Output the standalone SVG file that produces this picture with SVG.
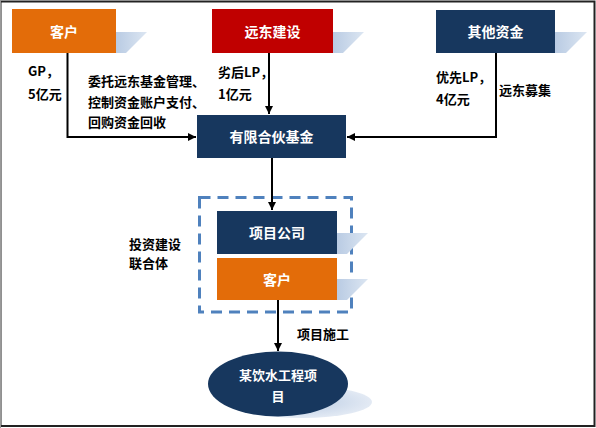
<svg xmlns="http://www.w3.org/2000/svg" width="596" height="428" viewBox="0 0 596 428">
<style>
.lbl{font-family:"Noto Sans CJK SC","Noto Sans",sans-serif;font-weight:bold;font-size:13px;fill:#000}
.box{font-family:"Noto Sans CJK SC","Noto Sans",sans-serif;font-weight:bold;font-size:14px;fill:#fff;text-anchor:middle}
.wt{font-family:"Noto Sans CJK SC","Noto Sans",sans-serif;font-weight:bold;font-size:13px;fill:#fff;text-anchor:middle}
.conn{stroke:#000;stroke-width:2;fill:none}
.shadow{fill:url(#sg)}
.navy{fill:#17375E}
.orange{fill:#E36C09}
.red{fill:#C00000}
</style>
<defs>
<marker id="arr" markerUnits="userSpaceOnUse" markerWidth="8" markerHeight="8" refX="8" refY="4" orient="auto">
<path d="M0,0 L8,4 L0,8 z" fill="#000"/>
</marker>
<linearGradient id="sg" x1="0" y1="0" x2="1" y2="0">
<stop offset="0" stop-color="#B9CBE3"/>
<stop offset="1" stop-color="#DCE6F2"/>
</linearGradient>
<radialGradient id="eg">
<stop offset="0" stop-color="#B9CBE3"/>
<stop offset="1" stop-color="#E3EAF4"/>
</radialGradient>
</defs>
<rect x="0" y="0" width="596" height="428" fill="#fff"/>
<rect x="0.5" y="1.5" width="594" height="424.5" fill="none" stroke="#222" stroke-width="2"/>
<line x1="0.5" y1="0" x2="0.5" y2="428" stroke="#999" stroke-width="1"/>

<g id="n-kehu-top">
<polygon class="shadow" points="116,32 147,32 126,53 116,53"/>
<rect class="orange" x="12" y="9" width="104" height="44"/>
<text class="box" x="64" y="37">客户</text>
</g>
<g id="n-yuandong">
<polygon class="shadow" points="333,32 364,32 343,53 333,53"/>
<rect class="red" x="212" y="9" width="121" height="44"/>
<text class="box" x="272.5" y="37">远东建设</text>
</g>
<g id="n-other">
<polygon class="shadow" points="555,32 587,32 566,53 555,53"/>
<rect class="navy" x="436" y="10" width="119" height="43"/>
<text class="box" x="495.5" y="37">其他资金</text>
</g>
<g id="n-fund">
<rect class="navy" x="197" y="115" width="149" height="43"/>
<text class="box" x="271.5" y="142">有限合伙基金</text>
</g>
<g id="n-union">
<rect x="199.5" y="197.5" width="152" height="114.5" fill="none" stroke="#4F81BD" stroke-width="3" stroke-dasharray="11,7"/>
</g>
<g id="n-company">
<polygon class="shadow" points="337,233 368,233 347,254 337,254"/>
<rect class="navy" x="217" y="211" width="120" height="43"/>
<text class="box" x="277" y="238">项目公司</text>
</g>
<g id="n-kehu-bottom">
<polygon class="shadow" points="337,279 368,279 347,300 337,300"/>
<rect class="orange" x="217" y="258" width="120" height="42"/>
<text class="box" x="277" y="285">客户</text>
</g>
<g id="n-project">
<ellipse cx="302" cy="402" rx="70" ry="16" fill="url(#eg)"/>
<ellipse cx="278" cy="384" rx="70" ry="32.5" fill="#17375E"/>
<text class="wt" x="278" y="380">某饮水工程项</text>
<text class="wt" x="278" y="401">目</text>
</g>

<g id="connectors">
<polyline class="conn" points="67.5,53 67.5,137 196,137" marker-end="url(#arr)"/>
<line class="conn" x1="269" y1="53" x2="269" y2="114" marker-end="url(#arr)"/>
<polyline class="conn" points="496,53 496,137 347,137" marker-end="url(#arr)"/>
<line class="conn" x1="272" y1="158" x2="272" y2="210" marker-end="url(#arr)"/>
<line class="conn" x1="278" y1="300" x2="278" y2="351" marker-end="url(#arr)"/>
</g>

<g id="labels">
<text class="lbl" x="28" y="76">GP，</text>
<text class="lbl" x="28" y="99">5亿元</text>
<text class="lbl" x="88" y="86">委托远东基金管理、</text>
<text class="lbl" x="88" y="107">控制资金账户支付、</text>
<text class="lbl" x="88" y="127">回购资金回收</text>
<text class="lbl" x="218" y="77">劣后LP，</text>
<text class="lbl" x="218" y="99">1亿元</text>
<text class="lbl" x="436" y="82">优先LP，</text>
<text class="lbl" x="436" y="104">4亿元</text>
<text class="lbl" x="499" y="95">远东募集</text>
<text class="lbl" x="129" y="249">投资建设</text>
<text class="lbl" x="129" y="268">联合体</text>
<text class="lbl" x="297" y="339">项目施工</text>
</g>
</svg>
